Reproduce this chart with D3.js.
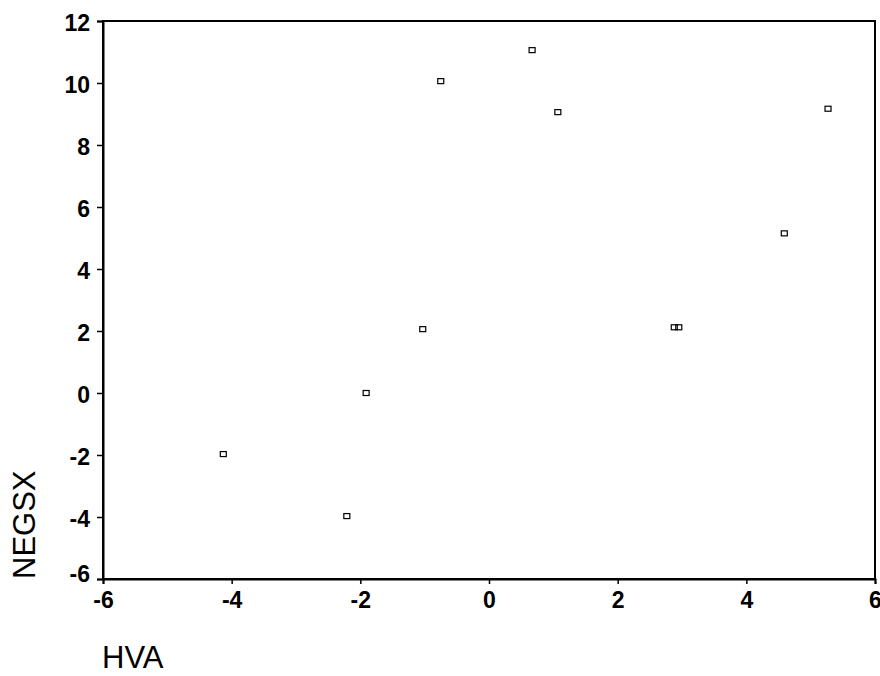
<!DOCTYPE html>
<html>
<head>
<meta charset="utf-8">
<script src="https://cdn.jsdelivr.net/npm/d3@7"></script>
<style>
  html, body { margin: 0; padding: 0; background: #fff; }
  svg { display: block; }
</style>
</head>
<body>
<svg id="chart" width="880" height="676"></svg>
<script>
const hva   = [-4.13, -2.21, -1.91, -1.03, -0.75, 0.67, 1.07, 2.88, 2.95, 4.59, 5.27];
const negsx = [-1.97, -3.97, 0.0, 2.06, 10.06, 11.06, 9.06, 2.12, 2.12, 5.15, 9.17];
const xTicks = [-6, -4, -2, 0, 2, 4, 6];
const yTicks = [-6, -4, -2, 0, 2, 4, 6, 8, 10, 12];
const xLabel = "HVA";
const yLabel = "NEGSX";

const W = 880, H = 676;
const m = { left: 103, top: 21, right: 5, bottom: 97 };
const svg = d3.select("#chart");
const x = d3.scaleLinear().domain([-6, 6]).range([m.left, W - m.right]);
const y = d3.scaleLinear().domain([-6, 12]).range([H - m.bottom, m.top]);

const font = "'Liberation Sans', Arial, sans-serif";

// frame
svg.append("rect")
  .attr("x", x(-6)).attr("y", y(12))
  .attr("width", x(6) - x(-6)).attr("height", y(-6) - y(12))
  .attr("fill", "none").attr("stroke", "#000").attr("stroke-width", 2);

const gx = svg.append("g")
  .attr("transform", `translate(0,${y(-6)})`)
  .call(d3.axisBottom(x).tickValues(xTicks).tickSize(5).tickPadding(8).tickFormat(d3.format("d")));
const gy = svg.append("g")
  .attr("transform", `translate(${x(-6)},0)`)
  .call(d3.axisLeft(y).tickValues(yTicks).tickSize(6).tickPadding(7).tickFormat(d3.format("d")));

[gx, gy].forEach(g => {
  g.select(".domain").attr("stroke", "#000").attr("stroke-width", 2);
  g.selectAll(".tick line").attr("stroke", "#000").attr("stroke-width", 1.5);
  g.selectAll(".tick text")
    .attr("fill", "#000")
    .style("font-family", font)
    .style("font-size", "23px")
    .style("font-weight", "bold")
    .text(d => d < 0 ? "-" + Math.abs(d) : String(d));
});
gy.selectAll(".tick text").attr("dy", "0.42em");
gy.selectAll(".tick").filter(d => d === -6).select("text").attr("dy", "0.1em");

// points: small open squares
const pts = hva.map((v, i) => ({ x: v, y: negsx[i] }));
svg.append("g").selectAll("rect")
  .data(pts).join("rect")
  .attr("x", d => x(d.x) - 3)
  .attr("y", d => y(d.y) - 2.5)
  .attr("width", 6).attr("height", 5)
  .attr("fill", "none").attr("stroke", "#000").attr("stroke-width", 1.2);

// axis titles
svg.append("text")
  .attr("x", 102).attr("y", 668)
  .style("font-family", font).style("font-size", "31px")
  .attr("fill", "#000")
  .text(xLabel);

svg.append("text")
  .attr("transform", `translate(35,${y(-6)}) rotate(-90)`)
  .attr("x", 0).attr("y", 0)
  .style("font-family", font).style("font-size", "31px")
  .attr("fill", "#000")
  .text(yLabel);
</script>
</body>
</html>
